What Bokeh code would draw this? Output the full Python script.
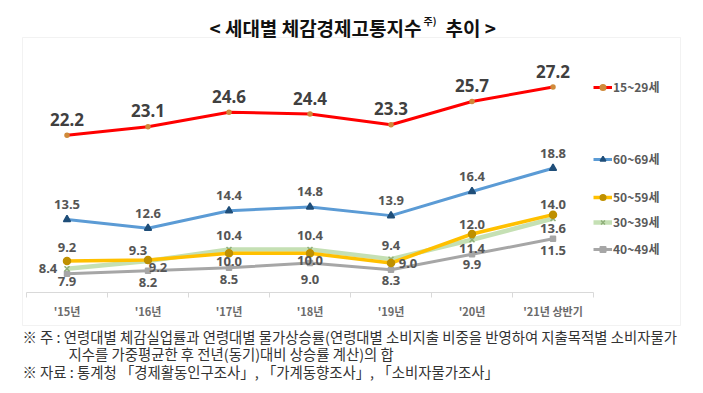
from bokeh.plotting import figure
from bokeh.models import (Range1d, FixedTicker, Label, Legend, LegendItem,
                          BoxAnnotation, ColumnDataSource)
from bokeh.embed import file_html
from bokeh.resources import INLINE
from bokeh.core.properties import value

# ---------------- data ----------------
categories = ["'15년", "'16년", "'17년", "'18년", "'19년", "'20년", "'21년 상반기"]
s15_29 = [22.2, 23.1, 24.6, 24.4, 23.3, 25.7, 27.2]
s60_69 = [13.5, 12.6, 14.4, 14.8, 13.9, 16.4, 18.8]
s50_59 = [9.2, 9.3, 10.0, 10.0, 9.0, 12.0, 14.0]
s30_39 = [8.4, 9.2, 10.4, 10.4, 9.4, 11.4, 13.6]
s40_49 = [7.9, 8.2, 8.5, 9.0, 8.3, 9.9, 11.5]
series_names = ["15~29세", "60~69세", "50~59세", "30~39세", "40~49세"]

title_main = "< 세대별 체감경제고통지수"
title_sup = "주)"
title_tail = "추이 >"
note1 = "※ 주 : 연령대별 체감실업률과 연령대별 물가상승률(연령대별 소비지출 비중을 반영하여 지출목적별 소비자물가"
note2 = "지수를 가중평균한 후 전년(동기)대비 상승률 계산)의 합"
note3 = "※ 자료 : 통계청 「경제활동인구조사」, 「가계동향조사」, 「소비자물가조사」"

KR = "Noto Sans CJK KR"

W, H = 695, 385
# layout: plot area in page px
X0, PX_PER_CAT = 26.0, 81.0      # left edge of first category, width per category
Y_AXIS_PX, PX_PER_UNIT, Y_AXIS_VAL = 292.0, 9.67, 5.95

xs = [i + 0.5 for i in range(len(categories))]

x_range = Range1d(-X0 / PX_PER_CAT, (W - X0) / PX_PER_CAT)
y_range = Range1d(Y_AXIS_VAL - (H - Y_AXIS_PX) / PX_PER_UNIT,
                  Y_AXIS_VAL + Y_AXIS_PX / PX_PER_UNIT)

p = figure(width=W, height=H, output_backend="svg", toolbar_location=None,
           x_range=x_range, y_range=y_range, min_border=0)
p.min_border_left = p.min_border_right = p.min_border_top = p.min_border_bottom = 0
p.outline_line_color = None
p.grid.visible = False
p.yaxis.visible = False

ax = p.xaxis[0]
ax.fixed_location = Y_AXIS_VAL
ax.bounds = (0, len(categories))
ax.ticker = FixedTicker(ticks=xs, minor_ticks=list(range(len(categories) + 1)))
ax.major_label_overrides = {x: c for x, c in zip(xs, categories)}
ax.major_tick_line_color = None
ax.major_tick_in = 0
ax.major_tick_out = 0
ax.minor_tick_in = 0
ax.minor_tick_out = 5
ax.minor_tick_line_color = "#D9D9D9"
ax.axis_line_color = "#D9D9D9"
ax.major_label_standoff = 5
ax.major_label_text_font = KR
ax.major_label_text_font_size = "11px"
ax.major_label_text_font_style = "bold"
ax.major_label_text_color = "#6b6b6b"

# box around chart (screen px: x from left, y from bottom)
box = BoxAnnotation(left=22, right=680, top=H - 37, bottom=H - 325,
                    left_units="screen", right_units="screen",
                    top_units="screen", bottom_units="screen",
                    fill_alpha=0, line_color="#D4D4D4", line_width=1)
p.add_layout(box)

styles = {
    "40~49세": dict(data=s40_49, color="#A6A6A6", width=3, marker="square",
                   mcolor="#A6A6A6", msize=5),
    "30~39세": dict(data=s30_39, color="#C5E0B4", width=4.5, marker="x",
                   mcolor="#8FAF7A", msize=7),
    "50~59세": dict(data=s50_59, color="#FFC000", width=3.5, marker="circle",
                   mcolor="#BF9000", msize=7),
    "60~69세": dict(data=s60_69, color="#5B9BD5", width=3, marker="triangle",
                   mcolor="#1F4E79", msize=7),
    "15~29세": dict(data=s15_29, color="#FF0000", width=3, marker="circle",
                   mcolor="#D08A3A", msize=4),
}

# label offsets (dx, dy) in pixels, per series per point
offsets = {
    "15~29세": [(0, -16)] * 7,
    "60~69세": [(0, -15)] * 7,
    "50~59세": [(0, -14), (-10, -10), (0, 8), (0, 7), (17, 0), (0, -9), (0, -10)],
    "30~39세": [(-19, 0), (10, 6), (0, -14), (0, -14), (0, -14), (0, 9), (0, 10)],
    "40~49세": [(0, 8), (0, 12), (0, 12), (0, 16), (0, 11), (0, 10), (0, 12)],
}

renderers = {}
for name in ["40~49세", "30~39세", "50~59세", "60~69세", "15~29세"]:
    st = styles[name]
    src = ColumnDataSource(dict(x=xs, y=st["data"]))
    lr = p.line("x", "y", source=src, line_color=st["color"], line_width=st["width"])
    sr = p.scatter("x", "y", source=src, marker=st["marker"], size=st["msize"],
                   fill_color=st["mcolor"], line_color=st["mcolor"], line_width=1.5)
    renderers[name] = [lr, sr]

for name in ["40~49세", "30~39세", "50~59세", "60~69세", "15~29세"]:
    st = styles[name]
    offs = offsets[name]
    big = name == "15~29세"
    src = ColumnDataSource(dict(x=xs, y=st["data"],
                                t=["%.1f" % v for v in st["data"]],
                                dx=[o[0] for o in offs], dy=[o[1] for o in offs]))
    p.text("x", "y", text="t", source=src, x_offset="dx", y_offset="dy",
           text_align="center", text_baseline="middle",
           text_font=value("Noto Sans"), text_font_style="bold",
           text_font_size="17px" if big else "13px",
           text_color="#404040" if big else "#555555")

# legends (one per series, positioned beside line ends; location from bottom-left)
leg_center_px = {"15~29세": 88, "60~69세": 160, "50~59세": 198, "30~39세": 223, "40~49세": 250}
for name in series_names:
    leg = Legend(items=[LegendItem(label=name, renderers=renderers[name])],
                 location=(593, H - (leg_center_px[name] + 7)),
                 padding=0, margin=0, spacing=0,
                 glyph_width=19, glyph_height=14, label_height=14,
                 label_standoff=1, border_line_color=None,
                 background_fill_alpha=0,
                 label_text_font=KR, label_text_font_size="12px",
                 label_text_font_style="bold", label_text_color="#595959")
    p.add_layout(leg)

# title
p.add_layout(Label(x=421, y=H - 27, x_units="screen", y_units="screen", text=title_main,
                   text_align="right", text_baseline="middle", text_font=KR,
                   text_font_size="19px", text_font_style="bold", text_color="#111111"))
p.add_layout(Label(x=423, y=H - 20, x_units="screen", y_units="screen", text=title_sup,
                   text_align="left", text_baseline="middle", text_font=KR,
                   text_font_size="10px", text_font_style="bold", text_color="#111111"))
p.add_layout(Label(x=445, y=H - 27, x_units="screen", y_units="screen", text=title_tail,
                   text_align="left", text_baseline="middle", text_font=KR,
                   text_font_size="19px", text_font_style="bold", text_color="#111111"))

# notes
for tx, x, y in [(note1, 22, 336), (note2, 68, 353), (note3, 22, 371)]:
    p.add_layout(Label(x=x, y=H - y, x_units="screen", y_units="screen", text=tx,
                       text_align="left", text_baseline="middle", text_font=KR,
                       text_font_size="14.4px", text_color="#333333"))

open("out.html", "w").write(file_html(p, INLINE))
